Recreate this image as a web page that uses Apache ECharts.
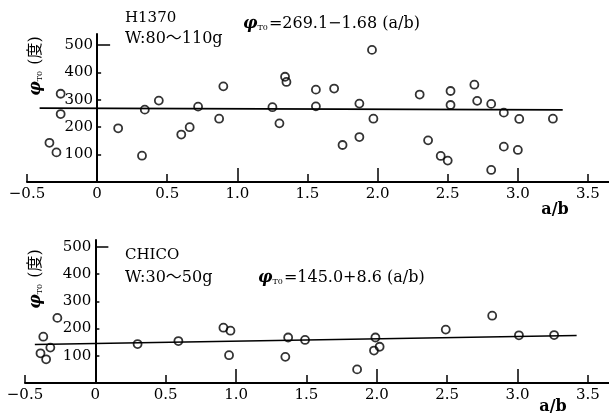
<!DOCTYPE html>
<html>
<head>
<meta charset="utf-8">
<script src="https://cdn.jsdelivr.net/npm/echarts@6/dist/echarts.min.js"></script>
<style>
  html, body { margin: 0; padding: 0; background: #fff; }
  #chart { width: 609px; height: 416px; }
</style>
</head>
<body>
<div id="chart"></div>
<script>
// H1370 (W: 80~110 g) — measured a/b against phi_T0
const h1370AB  = [-0.34, -0.29, -0.26, -0.26, 0.15, 0.32, 0.34, 0.44, 0.60, 0.66,
                  0.72, 0.87, 0.90, 1.25, 1.30, 1.34, 1.35, 1.56, 1.56, 1.69,
                  1.75, 1.87, 1.87, 1.96, 1.97, 2.30, 2.36, 2.45, 2.50, 2.52,
                  2.52, 2.69, 2.71, 2.81, 2.81, 2.90, 2.90, 3.00, 3.01, 3.25];
const h1370Phi = [143, 108, 322, 248, 196, 96, 264, 297, 173, 200,
                  275, 231, 349, 273, 214, 384, 365, 337, 276, 341,
                  135, 286, 164, 482, 231, 319, 152, 95, 78, 332,
                  281, 355, 296, 285, 44, 253, 129, 117, 230, 231];
// regression phi = a + b*(a/b) and the a/b span it covers
const h1370Fit   = [269.1, -1.68];
const h1370Span  = [-0.41, 3.32];

// CHICO (W: 30~50 g)
const chicoAB  = [-0.39, -0.37, -0.35, -0.32, -0.27, 0.30, 0.59, 0.91, 0.95, 0.96,
                  1.35, 1.37, 1.49, 1.86, 1.98, 1.99, 2.02, 2.49, 2.82, 3.01, 3.26];
const chicoPhi = [109, 170, 87, 130, 239, 143, 154, 203, 102, 192,
                  96, 167, 158, 50, 119, 167, 133, 196, 247, 175, 176];
const chicoFit  = [145.0, 8.6];
const chicoSpan = [-0.43, 3.42];

// axis ticks and labels
const xLabelValues  = [-0.5, 0, 0.5, 1.0, 1.5, 2.0, 2.5, 3.0, 3.5];
const xMajorTicks   = [1, 2, 3];
const xHalfTicks    = [-0.5, 0.5, 1.5, 2.5, 3.5];
const yLabelValues  = [100, 200, 300, 400, 500];
const yShortTicks   = [100, 200, 300, 400];
const yLongTicks    = [500];

const SERIF = "'DejaVu Serif', 'Liberation Serif', 'Noto Sans CJK JP', serif";

function fmtX(v) {
  if (v === 0) return '0';
  const s = Math.abs(v).toFixed(1);
  return v < 0 ? '\u2212' + s : s;
}

function pairs(xs, ys) { return xs.map((x, i) => [x, ys[i]]); }
function fitLine(fit, span) { return span.map(x => [x, fit[0] + fit[1] * x]); }

const X_MIN = -0.5, X_MAX = 3.65;
const panels = [
  { grid: { left: 27, top: 34, width: 582, height: 148 }, yMax: 540,
    pts: pairs(h1370AB, h1370Phi), line: fitLine(h1370Fit, h1370Span) },
  { grid: { left: 25, top: 240, width: 584, height: 143 }, yMax: 525,
    pts: pairs(chicoAB, chicoPhi), line: fitLine(chicoFit, chicoSpan) }
];

const grids = [], xAxes = [], yAxes = [], series = [];
panels.forEach((p, i) => {
  grids.push(Object.assign({ outerBoundsMode: 'none' }, p.grid));
  // the vertical axis stands at a/b = 0, inside the plot area
  const yShift = -(0 - X_MIN) / (X_MAX - X_MIN) * p.grid.width;
  // main x axis: line, integer ticks, labels
  xAxes.push({
    gridIndex: i, type: 'value', min: X_MIN, max: X_MAX, position: 'bottom',
    axisLine: { onZero: false, lineStyle: { color: '#000', width: 2 } },
    axisTick: { inside: true, length: 14, customValues: xMajorTicks,
                lineStyle: { color: '#000', width: 1.5 } },
    axisLabel: { customValues: xLabelValues, formatter: fmtX, color: '#000',
                 fontFamily: SERIF, fontSize: 15, margin: 5 },
    splitLine: { show: false }
  });
  // half-step ticks
  xAxes.push({
    gridIndex: i, type: 'value', min: X_MIN, max: X_MAX, position: 'bottom',
    axisLine: { show: false, onZero: false },
    axisTick: { inside: true, length: 8, customValues: xHalfTicks,
                lineStyle: { color: '#000', width: 1.5 } },
    axisLabel: { show: false }, splitLine: { show: false }
  });
  yAxes.push({
    gridIndex: i, type: 'value', min: 0, max: p.yMax, position: 'left', offset: yShift,
    axisLine: { onZero: false, lineStyle: { color: '#000', width: 2 } },
    axisTick: { inside: true, length: 4, customValues: yShortTicks,
                lineStyle: { color: '#000', width: 1.5 } },
    axisLabel: { customValues: yLabelValues, color: '#000',
                 fontFamily: SERIF, fontSize: 15, margin: 4 },
    splitLine: { show: false }
  });
  yAxes.push({
    gridIndex: i, type: 'value', min: 0, max: p.yMax, position: 'left', offset: yShift,
    axisLine: { show: false, onZero: false },
    axisTick: { inside: true, length: 13, customValues: yLongTicks,
                lineStyle: { color: '#000', width: 1.5 } },
    axisLabel: { show: false }, splitLine: { show: false }
  });
  series.push({
    type: 'line', xAxisIndex: 2 * i, yAxisIndex: 2 * i, data: p.line,
    showSymbol: false, symbol: 'none', silent: true,
    lineStyle: { color: '#000', width: 1.7 }, z: 2
  });
  series.push({
    type: 'scatter', xAxisIndex: 2 * i, yAxisIndex: 2 * i, data: p.pts,
    symbol: 'circle', symbolSize: 8,
    itemStyle: { color: 'rgba(0,0,0,0)', borderColor: '#000', borderWidth: 1.8 },
    z: 3
  });
});

function label(x, y, text, size, extra) {
  return Object.assign({
    type: 'text', x: x, y: y,
    style: { text: text, fill: '#000', font: size + 'px ' + SERIF,
             align: 'left', verticalAlign: 'middle' }
  }, extra || {});
}

const richPhi = {
  p: { fontFamily: SERIF, fontSize: 16, fontStyle: 'italic', fontWeight: 'bold', fill: '#000' },
  s: { fontFamily: SERIF, fontSize: 8, fill: '#000', verticalAlign: 'bottom', padding: [6, 1, 0, 0] },
  t: { fontFamily: SERIF, fontSize: 16, fill: '#000' }
};
function formula(x, y, text) {
  return { type: 'text', x: x, y: y,
    style: { text: '{p|φ}{s|T0}{t|' + text + '}', rich: richPhi,
             align: 'left', verticalAlign: 'middle' } };
}
function yName(x, y) {
  return { type: 'text', x: x, y: y, rotation: Math.PI / 2,
    style: { text: '{p|φ}{s|T0}{t| (度)}', rich: richPhi,
             align: 'center', verticalAlign: 'middle' } };
}

const graphics = [
  label(125, 18, 'H1370', 15),
  label(125, 39, 'W:80～110g', 16),
  formula(243, 24, '=269.1\u22121.68 (a/b)'),
  yName(36, 66),
  { type: 'text', x: 555, y: 210, style: { text: 'a/b', fill: '#000',
      font: 'bold 16px ' + SERIF, align: 'center', verticalAlign: 'middle' } },

  label(125, 255, 'CHICO', 15),
  label(125, 278, 'W:30～50g', 16),
  formula(258, 278, '=145.0+8.6 (a/b)'),
  yName(36, 279),
  { type: 'text', x: 553, y: 407, style: { text: 'a/b', fill: '#000',
      font: 'bold 16px ' + SERIF, align: 'center', verticalAlign: 'middle' } }
];

const chart = echarts.init(document.getElementById('chart'), null, { renderer: 'canvas' });
chart.setOption({
  animation: false,
  backgroundColor: '#fff',
  grid: grids,
  xAxis: xAxes,
  yAxis: yAxes,
  series: series,
  graphic: graphics
});
</script>
</body>
</html>
